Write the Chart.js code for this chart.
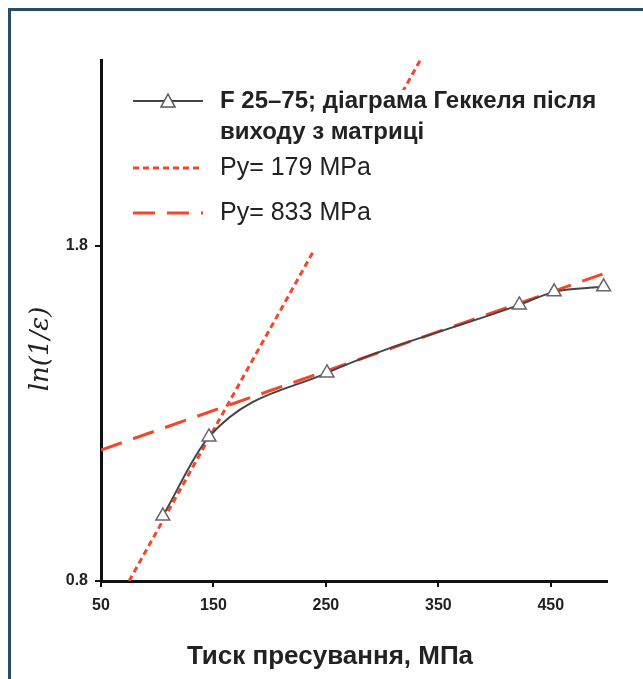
<!DOCTYPE html>
<html>
<head>
<meta charset="utf-8">
<script src="https://cdn.jsdelivr.net/npm/chart.js@4"></script>
<style>
body{margin:0;background:#fff;}
#frame{position:absolute;left:8px;top:8px;width:700px;height:700px;border-left:3px solid #2a4c6c;border-top:3px solid #2a4c6c;}
#wrap{position:absolute;left:0;top:0;width:643px;height:679px;}
</style>
</head>
<body>
<div id="frame"></div>
<div id="wrap"><canvas id="heckelChart"></canvas></div>
<script>
// values
const pressure = [105, 146, 251, 422, 453, 497];
const lnInvEps = [0.994, 1.23, 1.421, 1.624, 1.663, 1.678];
const fit179X = [75, 334];
const fit179Y = [0.8, 2.355];
const fit833X = [50, 496];
const fit833Y = [1.191, 1.716];
const xTicks = [50, 150, 250, 350, 450];
const yTicks = [0.8, 1.8];
const seriesLabels = [
    ['F 25–75; діаграма Геккеля після', 'виходу з матриці'],
    ['Py= 179 MPa'],
    ['Py= 833 MPa']
];
const xTitle = 'Тиск пресування, МПа';
const yTitle = 'ln(1/ε)';

const red = '#f2472b';
const toPoints = (xs, ys) => xs.map((x, i) => ({x: x, y: ys[i]}));

//legend drawn over the lines with a white box behind it
const legendBox = {
    id: 'legendBox',
    afterDatasetsDraw(chart) {
        const ctx = chart.ctx;
        ctx.save();
        ctx.fillStyle = '#fff';
        ctx.fillRect(124, 90, 490, 160);
        const rows = [101, 168, 213];
        const ds = chart.data.datasets;
        rows.forEach((y, i) => {
            ctx.beginPath();
            ctx.strokeStyle = ds[i].borderColor;
            ctx.lineWidth = ds[i].borderWidth;
            ctx.setLineDash(ds[i].borderDash || []);
            ctx.moveTo(133, y);
            ctx.lineTo(203, y);
            ctx.stroke();
            ctx.setLineDash([]);
            if (i === 0) {
                ctx.beginPath();
                ctx.moveTo(168, y - 7);
                ctx.lineTo(175, y + 6);
                ctx.lineTo(161, y + 6);
                ctx.closePath();
                ctx.fillStyle = '#fff';
                ctx.fill();
                ctx.lineWidth = 1.5;
                ctx.strokeStyle = '#555';
                ctx.stroke();
            }
            ctx.fillStyle = '#222';
            ctx.font = (i === 0 ? 'bold 24px ' : '25px ') + '"Liberation Sans"';
            ctx.textBaseline = 'middle';
            seriesLabels[i].forEach((t, k) => ctx.fillText(t, 220, y + k * 31));
        });
        ctx.restore();
    }
};

const axisTitles = {
    id: 'axisTitles',
    afterDraw(chart) {
        const ctx = chart.ctx;
        ctx.save();
        ctx.fillStyle = '#222';
        ctx.textAlign = 'center';
        ctx.textBaseline = 'middle';
        ctx.font = 'bold 26px "Liberation Sans"';
        ctx.fillText(xTitle, 330, 657);
        ctx.translate(41, 349);
        ctx.rotate(-Math.PI / 2);
        ctx.font = 'italic 26px "DejaVu Serif"';
        ctx.fillText(yTitle, 0, 0);
        ctx.restore();
    }
};

var ctx = document.getElementById('heckelChart').getContext('2d');
var heckelChart = new Chart(ctx, {
    type: 'scatter',
    data: {
        datasets: [{
            label: seriesLabels[0].join(' '),
            data: toPoints(pressure, lnInvEps),
            showLine: true,
            borderColor: '#444',
            borderWidth: 2,
            cubicInterpolationMode: 'monotone',
            pointStyle: 'triangle',
            pointRadius: 8,
            pointBorderColor: '#666',
            pointBackgroundColor: '#fff',
            pointBorderWidth: 1.5,
            clip: false
        }, {
            label: seriesLabels[1][0],
            data: toPoints(fit179X, fit179Y),
            showLine: true,
            borderColor: red,
            borderWidth: 3,
            borderDash: [6, 4],
            pointRadius: 0
        }, {
            label: seriesLabels[2][0],
            data: toPoints(fit833X, fit833Y),
            showLine: true,
            borderColor: red,
            borderWidth: 3,
            borderDash: [22, 12],
            pointRadius: 0
        }]
    },
    options: {
        responsive: true,
        maintainAspectRatio: false,
        animation: false,
        layout: {padding: {top: 60, right: 36}},
        plugins: {legend: {display: false}, tooltip: {enabled: false}},
        scales: {
            x: {
                type: 'linear',
                min: 50,
                max: 500,
                afterBuildTicks: s => { s.ticks = xTicks.map(v => ({value: v})); },
                afterFit: s => { s.height = 98; },
                border: {display: true, width: 3, color: '#111'},
                grid: {drawOnChartArea: false, tickLength: 6, color: '#111', lineWidth: 2},
                ticks: {padding: 9, color: '#222', font: {family: 'Liberation Sans', size: 16, weight: 'bold'}}
            },
            y: {
                type: 'linear',
                min: 0.8,
                max: 2.355,
                afterBuildTicks: s => { s.ticks = yTicks.map(v => ({value: v})); },
                afterFit: s => { s.width = 101; },
                border: {display: true, width: 3, color: '#111'},
                grid: {drawOnChartArea: false, tickLength: 6, color: '#111', lineWidth: 2},
                ticks: {padding: 7, color: '#222', font: {family: 'Liberation Sans', size: 16, weight: 'bold'},
                    callback: v => v.toFixed(1)}
            }
        }
    },
    plugins: [legendBox, axisTitles]
});
</script>
</body>
</html>
